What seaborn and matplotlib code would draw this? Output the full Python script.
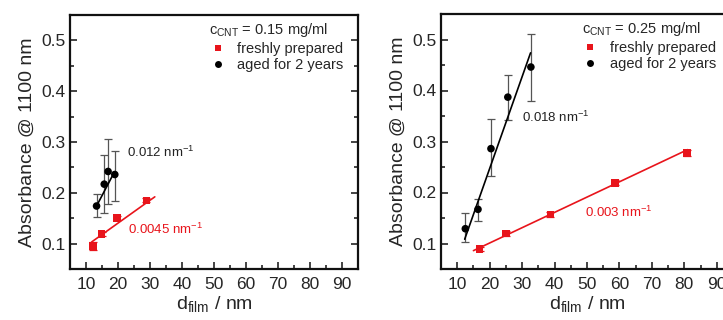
import numpy as np
import pandas as pd
import matplotlib
matplotlib.use("Agg")
import matplotlib.pyplot as plt
import seaborn as sns

# ---- data -------------------------------------------------------------
SERIES = ["freshly prepared", "aged for 2 years"]
COLORS = {"freshly prepared": "#e8141b", "aged for 2 years": "#000000"}
ERRCOLORS = {"freshly prepared": "#e8141b", "aged for 2 years": "#555555"}
MARKERS = {"freshly prepared": "s", "aged for 2 years": "o"}

# c_CNT = 0.15 mg/ml
fresh15_x = [12.1, 14.9, 19.6, 28.9]
fresh15_y = [0.095, 0.119, 0.150, 0.185]
fresh15_lo = [0.087, 0.115, 0.146, 0.181]
fresh15_hi = [0.103, 0.123, 0.154, 0.189]
aged15_x = [13.3, 15.7, 16.9, 19.0]
aged15_y = [0.174, 0.217, 0.242, 0.236]
aged15_lo = [0.153, 0.160, 0.178, 0.184]
aged15_hi = [0.198, 0.275, 0.306, 0.283]

# c_CNT = 0.25 mg/ml
fresh25_x = [16.9, 25.1, 38.7, 58.7, 80.8]
fresh25_y = [0.089, 0.1195, 0.157, 0.219, 0.277]
fresh25_lo = [0.085, 0.115, 0.152, 0.214, 0.271]
fresh25_hi = [0.093, 0.124, 0.162, 0.224, 0.283]
aged25_x = [12.5, 16.4, 20.4, 25.6, 32.7]
aged25_y = [0.129, 0.167, 0.286, 0.387, 0.446]
aged25_lo = [0.102, 0.145, 0.232, 0.342, 0.380]
aged25_hi = [0.159, 0.188, 0.344, 0.430, 0.510]

# linear fits: slope (nm^-1), intercept, fitted range
fit15_fresh = dict(slope=0.0045, icpt=0.0503, x0=11.8, x1=31.5)
fit15_aged = dict(slope=0.012, icpt=0.0144, x0=13.3, x1=18.8)
fit25_fresh = dict(slope=0.003, icpt=0.041, x0=15.0, x1=81.0)
fit25_aged = dict(slope=0.018, icpt=-0.113, x0=12.3, x1=32.6)

concentrations = ["0.15", "0.25"]
x_ticks = [10, 20, 30, 40, 50, 60, 70, 80, 90]
y_ticks = [0.1, 0.2, 0.3, 0.4, 0.5]

# ---- style ------------------------------------------------------------
sns.set_theme(style="ticks")
plt.rcParams["font.family"] = ["Liberation Sans", "DejaVu Sans"]
plt.rcParams["mathtext.fontset"] = "custom"
plt.rcParams["mathtext.rm"] = "Liberation Sans"
plt.rcParams["mathtext.it"] = "Liberation Sans:italic"
plt.rcParams["mathtext.bf"] = "Liberation Sans:bold"

fig = plt.figure(figsize=(7.23, 3.2), dpi=100)
ax_l = fig.add_axes([70 / 723, 1 - 269 / 320, 288 / 723, 254 / 320])
ax_r = fig.add_axes([441 / 723, 1 - 269 / 320, 292 / 723, 255 / 320])


def frame(fx, fy, flo, fhi, ax_, ay, alo, ahi):
    rows = []
    for name, xs, ys, los, his in [
        (SERIES[0], fx, fy, flo, fhi),
        (SERIES[1], ax_, ay, alo, ahi),
    ]:
        for x, y, lo, hi in zip(xs, ys, los, his):
            rows.append(dict(series=name, d=x, A=y, lo=lo, hi=hi))
    return pd.DataFrame(rows)


def fit_frame(fit, name):
    xs = np.array([fit["x0"], fit["x1"]])
    return pd.DataFrame(dict(series=name, d=xs, A=fit["slope"] * xs + fit["icpt"]))


panels = [
    (ax_l, frame(fresh15_x, fresh15_y, fresh15_lo, fresh15_hi,
                 aged15_x, aged15_y, aged15_lo, aged15_hi),
     fit15_fresh, fit15_aged, concentrations[0],
     (22.7, 0.279), (23.2, 0.127)),
    (ax_r, frame(fresh25_x, fresh25_y, fresh25_lo, fresh25_hi,
                 aged25_x, aged25_y, aged25_lo, aged25_hi),
     fit25_fresh, fit25_aged, concentrations[1],
     (30.0, 0.347), (49.3, 0.161)),
]

for ax, df, ffit, afit, conc, apos, fpos in panels:
    # error bars
    for name in SERIES:
        sub = df[df.series == name]
        ax.errorbar(sub.d, sub.A, yerr=[sub.A - sub.lo, sub.hi - sub.A],
                    fmt="none", ecolor=ERRCOLORS[name], elinewidth=0.9,
                    capsize=3, capthick=0.9, zorder=2)
    # fit lines
    for fit, name in [(ffit, SERIES[0]), (afit, SERIES[1])]:
        sns.lineplot(data=fit_frame(fit, name), x="d", y="A", ax=ax,
                     color=COLORS[name], lw=1.2, legend=False, zorder=3,
                     errorbar=None)
    # data points
    sns.scatterplot(data=df, x="d", y="A", hue="series", style="series",
                    hue_order=SERIES, style_order=SERIES,
                    palette=COLORS, markers=MARKERS, s=30, linewidth=0,
                    ax=ax, zorder=4)
    sns.move_legend(ax, "upper left", bbox_to_anchor=(0.482, 0.975),
                    title=f"c$_{{\\mathrm{{CNT}}}}$ = {conc} mg/ml",
                    frameon=False, fontsize=10.5, title_fontsize=10.5,
                    labelspacing=0.12, handletextpad=0.75, handlelength=1.2,
                    borderpad=0, borderaxespad=0)
    leg = ax.get_legend()
    leg._legend_box.align = "left"
    leg._legend_box.sep = 2
    for h in leg.legend_handles:
        h.set_markersize(5)

    # slope annotations
    ax.text(apos[0], apos[1], f"{afit['slope']} nm$^{{\\mathrm{{-1}}}}$",
            color="#222222", fontsize=9.5, va="center", ha="left")
    ax.text(fpos[0], fpos[1], f"{ffit['slope']} nm$^{{\\mathrm{{-1}}}}$",
            color=COLORS[SERIES[0]], fontsize=9.5, va="center", ha="left")

    ax.set_xlim(5, 95)
    ax.set_ylim(0.05, 0.55)
    ax.set_xticks(x_ticks)
    ax.set_xticks(np.arange(15, 95, 10), minor=True)
    ax.set_yticks(y_ticks)
    ax.set_yticks([0.15, 0.25, 0.35, 0.45], minor=True)
    ax.set_yticklabels([f"{t:.1f}" for t in y_ticks])
    ax.tick_params(which="both", direction="in", top=False, right=True,
                   width=1.1, color="#111111", labelsize=12.5)
    ax.tick_params(which="major", length=5)
    ax.tick_params(which="minor", length=3)
    ax.tick_params(axis="x", pad=6)
    ax.tick_params(axis="y", pad=3)
    for sp in ax.spines.values():
        sp.set_visible(True)
        sp.set_linewidth(1.6)
        sp.set_color("#111111")
    ax.set_xlabel("d$_{\\mathrm{film}}$ / nm", fontsize=14, labelpad=1)
    ax.set_ylabel("Absorbance @ 1100 nm", fontsize=14, labelpad=4)

fig.savefig("out.png", dpi=100)
